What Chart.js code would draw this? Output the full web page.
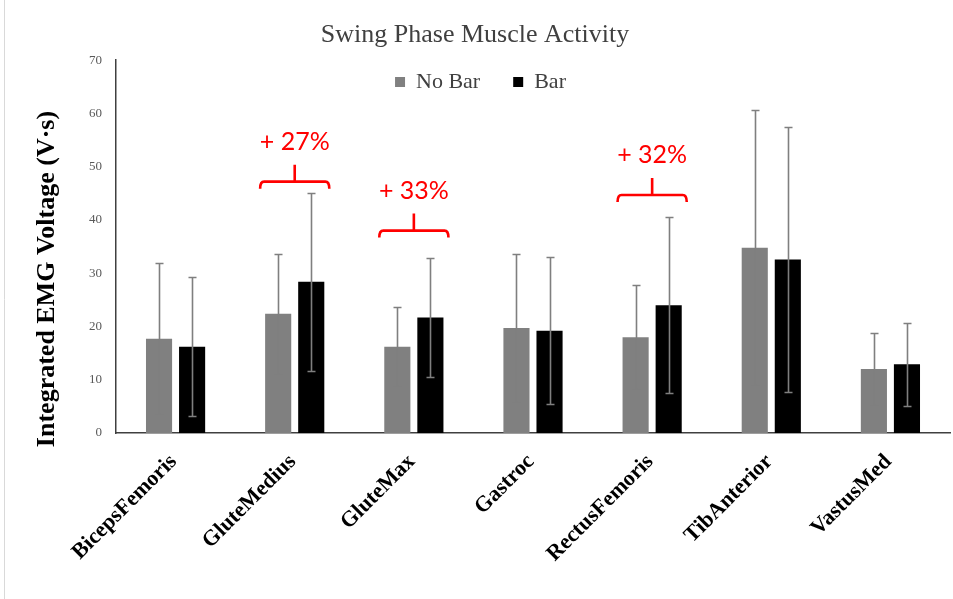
<!DOCTYPE html>
<html>
<head>
<meta charset="utf-8">
<script src="https://cdn.jsdelivr.net/npm/chart.js@4/dist/chart.umd.min.js"></script>
<style>
  html, body { margin: 0; padding: 0; background: #ffffff; }
  #wrap { width: 953px; height: 599px; position: relative; }
</style>
</head>
<body>
<div id="wrap"><canvas id="c" width="953" height="599"></canvas></div>
<script>
// ---- data ----
const categories = ['BicepsFemoris', 'GluteMedius', 'GluteMax', 'Gastroc', 'RectusFemoris', 'TibAnterior', 'VastusMed'];
const seriesNames = ['No Bar', 'Bar'];
const noBarMean = [17.7, 22.4, 16.2, 19.7, 18.0, 34.8, 12.0];
const noBarSD   = [14.2, 11.3, 7.4, 13.9, 9.8, 25.8, 6.7];
const barMean   = [16.2, 28.4, 21.7, 19.2, 24.0, 32.6, 12.9];
const barSD     = [13.0, 16.7, 11.2, 13.8, 16.5, 24.9, 7.8];
const yTicks    = [0, 10, 20, 30, 40, 50, 60, 70];
const annotCategories = ['GluteMedius', 'GluteMax', 'RectusFemoris'];
const annotLabels     = ['+ 27%', '+ 33%', '+ 32%'];
const annotLevels     = [47.2, 38.0, 44.7];
const chartTitle = 'Swing Phase Muscle Activity';
const yTitle = 'Integrated EMG Voltage (V\u00B7s)';

const sdArrays = [noBarSD, barSD];
const SERIF = '"Liberation Serif", "Times New Roman", serif';

const errorBarPlugin = {
  id: 'errorBars',
  afterDatasetsDraw(chart) {
    const ctx = chart.ctx;
    const y = chart.scales.y;
    ctx.save();
    ctx.strokeStyle = '#7f7f7f';
    ctx.lineWidth = 1.6;
    chart.data.datasets.forEach((ds, i) => {
      const meta = chart.getDatasetMeta(i);
      meta.data.forEach((bar, j) => {
        const m = ds.data[j], sd = sdArrays[i][j];
        const yt = Math.round(y.getPixelForValue(m + sd)) + 0.5;
        const yb = Math.round(y.getPixelForValue(m - sd)) + 0.5;
        const x = Math.round(bar.x) + 0.5;
        ctx.beginPath();
        ctx.moveTo(x, yt); ctx.lineTo(x, yb);
        ctx.moveTo(x - 4, yt); ctx.lineTo(x + 4, yt);
        ctx.moveTo(x - 4, yb); ctx.lineTo(x + 4, yb);
        ctx.stroke();
      });
    });
    ctx.restore();
  }
};

const annotPlugin = {
  id: 'annots',
  afterDraw(chart) {
    const ctx = chart.ctx;
    const y = chart.scales.y;
    const m0 = chart.getDatasetMeta(0), m1 = chart.getDatasetMeta(1);
    ctx.save();
    ctx.strokeStyle = '#ff0000';
    ctx.fillStyle = '#ff0000';
    ctx.lineWidth = 2.6;
    ctx.lineCap = 'butt';
    annotCategories.forEach((name, k) => {
      const idx = categories.indexOf(name);
      const b0 = m0.data[idx], b1 = m1.data[idx];
      const left = b0.x - b0.width / 2 - 5;
      const right = b1.x + b1.width / 2 + 5;
      const cx = (left + right) / 2;
      const ly = y.getPixelForValue(annotLevels[k]);
      ctx.beginPath();
      ctx.moveTo(left, ly + 7);
      ctx.quadraticCurveTo(left, ly, left + 4, ly);
      ctx.lineTo(right - 4, ly);
      ctx.quadraticCurveTo(right, ly, right, ly + 7);
      ctx.moveTo(cx, ly);
      ctx.lineTo(cx, ly - 17);
      ctx.stroke();
      ctx.font = '25px Lato, "Open Sans", sans-serif';
      ctx.textAlign = 'center';
      ctx.textBaseline = 'middle';
      ctx.fillText(annotLabels[k], cx, ly - 40);
    });
    // y axis title
    ctx.fillStyle = '#000000';
    ctx.font = 'bold 26px ' + SERIF;
    ctx.textAlign = 'center';
    ctx.textBaseline = 'middle';
    ctx.translate(47, 279);
    ctx.rotate(-Math.PI / 2);
    ctx.fillText(yTitle, 0, 0);
    ctx.restore();
    // faint frame edge on left
    ctx.save();
    ctx.strokeStyle = '#d9d9d9';
    ctx.lineWidth = 1;
    ctx.beginPath();
    ctx.moveTo(4.5, 0); ctx.lineTo(4.5, 599);
    ctx.stroke();
    ctx.restore();
  }
};

// legend floats inside the plot, so it takes no layout space
const legendFloat = {
  id: 'legendFloat',
  beforeLayout(chart) {
    const lg = chart.legend;
    if (lg && !lg._patched) {
      const orig = lg.fit.bind(lg);
      lg.fit = function () { orig(); this.height = 0; };
      lg._patched = true;
    }
  },
  afterLayout(chart) {
    const lg = chart.legend;
    if (!lg) return;
    const w = chart.width;
    const centre = 480.5;
    lg.left = centre - w / 2;
    lg.right = centre + w / 2;
    lg.width = w;
    lg.top = 38;
    lg.bottom = 110;
    lg.height = 72;
  }
};

new Chart(document.getElementById('c'), {
  type: 'bar',
  data: {
    labels: categories,
    datasets: [
      { label: seriesNames[0], data: noBarMean, backgroundColor: '#808080', borderWidth: 0,
        categoryPercentage: 0.555, barPercentage: 0.79 },
      { label: seriesNames[1], data: barMean, backgroundColor: '#000000', borderWidth: 0,
        categoryPercentage: 0.555, barPercentage: 0.79 }
    ]
  },
  options: {
    responsive: false,
    animation: false,
    devicePixelRatio: 1,
    layout: { padding: { left: 0, right: 3, top: 0, bottom: 0 } },
    plugins: {
      tooltip: { enabled: false },
      title: {
        display: true,
        text: chartTitle,
        color: '#404040',
        font: { family: SERIF, size: 26, weight: 'normal' },
        padding: { top: 20, bottom: 9 }
      },
      legend: {
        display: true,
        position: 'top',
        align: 'center',
        labels: {
          color: '#404040',
          boxWidth: 10,
          boxHeight: 10,
          padding: 33,
          font: { family: SERIF, size: 22 }
        }
      }
    },
    scales: {
      x: {
        grid: { display: false, drawTicks: false },
        border: { display: true, color: '#404040', width: 1.5 },
        ticks: {
          color: '#000000',
          font: { family: SERIF, size: 22, weight: 'bold' },
          maxRotation: 45, minRotation: 45,
          autoSkip: false,
          padding: 16,
          labelOffset: -2
        },
        afterFit(s) { s.height = 166; }
      },
      y: {
        min: 0, max: 70,
        grid: { display: false, drawTicks: false },
        border: { display: true, color: '#404040', width: 1.5 },
        ticks: {
          stepSize: 10,
          color: '#595959',
          font: { family: SERIF, size: 13 },
          padding: 14,
          callback: (v) => yTicks.includes(v) ? String(v) : ''
        },
        afterFit(s) { s.width = 116; }
      }
    }
  },
  plugins: [legendFloat, errorBarPlugin, annotPlugin]
});
</script>
</body>
</html>
